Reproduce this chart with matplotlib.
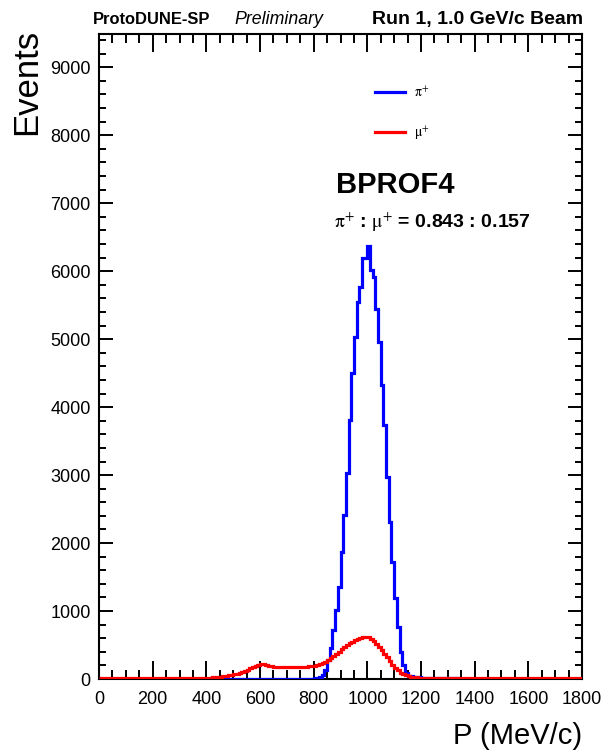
import numpy as np
import matplotlib
matplotlib.use('Agg')
import matplotlib.pyplot as plt
from matplotlib.ticker import MultipleLocator

plt.rcParams['font.family'] = ['Liberation Sans', 'DejaVu Sans']
plt.rcParams['mathtext.fontset'] = 'stix'

# momentum binning, 10 MeV/c bins from 0 to 1800
bin_edges = np.arange(0, 1810, 10)

# pi+ counts per bin
pi_counts = [
    2, 2, 2, 2, 2, 2, 2, 2, 2, 2, 2, 2, 2, 2, 2, 2, 2, 2, 2, 2,            # 0-190
    2, 2, 2, 2, 2, 2, 2, 2, 2, 2, 2, 2, 2, 2, 2, 2, 2, 2, 2, 2,            # 200-390
    2, 2, 2, 2, 2, 2, 2, 2, 2, 2, 2, 2, 2, 2, 2, 2, 2, 2, 2, 2,            # 400-590
    2, 2, 2, 2, 2, 2, 2, 2, 2, 2, 3, 3, 3, 4, 4, 4, 5, 5, 6, 6,            # 600-790
    8, 15, 30, 65, 132, 280, 450, 720, 1015, 1358,                         # 800-890
    1872, 2412, 3025, 3809, 4495, 5034, 5549, 5770, 6190, 6200,            # 900-990
    6370, 6015, 5917, 5451, 4961, 4324, 3735, 2975, 2313, 1725,            # 1000-1090
    1186, 770, 402, 206, 84, 50, 38, 32, 28, 25,                           # 1100-1190
    22, 20, 18, 16, 15, 14, 13, 12, 11, 10,                                # 1200-1290
    9, 9, 8, 8, 7, 7, 7, 6, 6, 6,                                          # 1300-1390
    5, 5, 5, 5, 5, 5, 5, 5, 4, 4, 4, 4, 4, 4, 4, 3, 3, 3, 3, 3,            # 1400-1590
    3, 3, 3, 3, 3, 3, 3, 3, 3, 3, 3, 3, 3, 3, 3, 3, 3, 3, 3, 3,            # 1600-1790
]

# mu+ counts per bin
mu_counts = [
    15, 15, 15, 15, 15, 15, 15, 15, 15, 15, 15, 15, 15, 15, 15, 15, 15, 15, 15, 15,   # 0-190
    15, 15, 15, 15, 15, 15, 15, 15, 15, 15, 15, 15, 16, 16, 16, 17, 17, 18, 18, 19,   # 200-390
    20, 22, 24, 26, 29, 33, 38, 44, 52, 60,                                           # 400-490
    70, 80, 92, 104, 118, 138, 158, 176, 194, 208,                                    # 500-590
    216, 214, 205, 196, 188, 182, 178, 176, 172, 174,                                 # 600-690
    170, 172, 176, 173, 171, 175, 178, 180, 184, 190,                                 # 700-790
    196, 205, 215, 232, 255, 280, 305, 340, 372, 400,                                 # 800-890
    438, 472, 500, 525, 548, 570, 588, 600, 612, 620,                                 # 900-990
    612, 592, 562, 522, 478, 428, 372, 318, 262, 212,                                 # 1000-1090
    168, 128, 95, 70, 52, 40, 32, 28, 25, 22,                                         # 1100-1190
    21, 20, 20, 19, 19, 18, 18, 18, 17, 17, 17, 16, 16, 16, 16, 15, 15, 15, 15, 15,   # 1200-1390
    15, 15, 14, 14, 14, 14, 14, 14, 13, 13, 13, 13, 13, 13, 13, 13, 12, 12, 12, 12,   # 1400-1590
    12, 12, 12, 12, 12, 12, 12, 12, 12, 12, 12, 12, 12, 12, 12, 12, 12, 12, 12, 12,   # 1600-1790
]

fig = plt.figure(figsize=(6.02, 7.5), dpi=100)
ax = fig.add_axes([99 / 602, 71 / 750, 483 / 602, 645 / 750])

ax.stairs(pi_counts, bin_edges, color='#0000ff', lw=2.3, baseline=None,
          label=r'$\mathrm{\pi}^{+}$', zorder=3)
ax.stairs(mu_counts, bin_edges, color='#ff0000', lw=2.3, baseline=None,
          label=r'$\mathrm{\mu}^{+}$', zorder=3)

ax.set_xlim(0, 1800)
ax.set_ylim(0, 9490)

ax.xaxis.set_major_locator(MultipleLocator(200))
ax.xaxis.set_minor_locator(MultipleLocator(50))
ax.yaxis.set_major_locator(MultipleLocator(1000))
ax.yaxis.set_minor_locator(MultipleLocator(200))

ax.tick_params(axis='both', which='both', direction='in', top=True, right=True,
               width=1.4, labelsize=13)
ax.tick_params(axis='x', which='major', length=13, pad=9)
ax.tick_params(axis='x', which='minor', length=6.5)
ax.tick_params(axis='y', which='major', length=10, pad=6)
ax.tick_params(axis='y', which='minor', length=5)
for sp in ax.spines.values():
    sp.set_linewidth(1.5)

ax.set_xlabel('P (MeV/c)', fontsize=21, loc='right', labelpad=10)
ax.set_ylabel('Events', fontsize=25, loc='top')
ax.yaxis.set_label_coords(-0.115, 1.008)

ax.legend(loc='upper left', bbox_to_anchor=(0.545, 0.94), frameon=False,
          fontsize=10, handlelength=2.2, handletextpad=0.6, labelspacing=1.8)

ax.text(0.49, 0.754, 'BPROF4', transform=ax.transAxes, fontsize=21,
        fontweight='bold', ha='left', va='baseline')
ax.text(0.487, 0.699, r'$\mathrm{\pi}^{+}$ : $\mathrm{\mu}^{+}$ = 0.843 : 0.157',
        transform=ax.transAxes, fontsize=14, fontweight='bold',
        ha='left', va='baseline')

fig.text(93 / 602, 1 - 24 / 750, 'ProtoDUNE-SP', fontsize=11.9, fontweight='bold',
         ha='left', va='baseline')
fig.text(234 / 602, 1 - 24 / 750, 'Preliminary', fontsize=12.8, style='italic',
         ha='left', va='baseline')
fig.text(583 / 602, 1 - 24 / 750, 'Run 1, 1.0 GeV/c Beam', fontsize=14,
         fontweight='bold', ha='right', va='baseline')

fig.savefig('out.png', dpi=100)
